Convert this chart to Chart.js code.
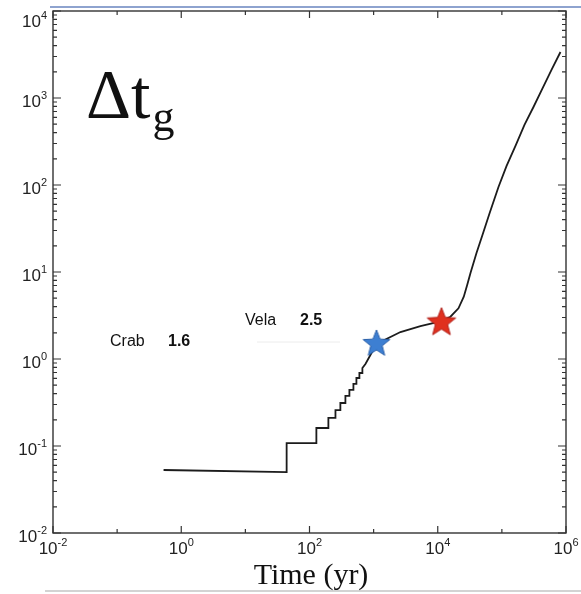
<!DOCTYPE html>
<html>
<head>
<meta charset="utf-8">
<script src="https://cdn.jsdelivr.net/npm/chart.js@4.4.1/dist/chart.umd.min.js"></script>
<style>
html, body { margin: 0; padding: 0; background: #fff; }
#wrap { width: 581px; height: 594px; }
</style>
</head>
<body>
<div id="wrap"><canvas id="c" width="581" height="594"></canvas></div>
<script>
// glitch time delay curve (time in yr)
var timeYr = [0.53, 44, 44, 128, 128, 197, 197, 254, 254, 303, 303, 363, 363, 419, 419, 484, 484, 539, 539, 600, 600, 668, 668, 745, 891, 1107, 2620, 5370, 11430, 15780, 21040, 25470, 28770, 32400, 40200, 49800, 64100, 88500, 118000, 163000, 225000, 311000, 430000, 594000, 820000]
var deltaTg = [0.053, 0.050, 0.108, 0.108, 0.161, 0.161, 0.210, 0.210, 0.259, 0.259, 0.312, 0.312, 0.376, 0.376, 0.441, 0.441, 0.517, 0.517, 0.605, 0.605, 0.690, 0.690, 0.789, 0.877, 1.11, 1.49, 2.04, 2.39, 2.73, 3.06, 3.83, 5.20, 7.10, 9.75, 16.5, 26.6, 47.0, 95, 165, 281, 490, 788, 1290, 2100, 3380]

// pulsar markers
var crabAge = [1107]
var crabDt = [1.49]
var velaAge = [11430]
var velaDt = [2.62]

var xTickExp = [-2, -1, 0, 1, 2, 3, 4, 5, 6]
var yTickExp = [-2, -1, 0, 1, 2, 3, 4]

var notes = [
    { name: 'Crab', value: '1.6', x: 110, vx: 168, y: 342 },
    { name: 'Vela', value: '2.5', x: 245, vx: 300, y: 321 }
]

function makeStar(r, fill, edge) {
    var c = document.createElement('canvas')
    var s = Math.ceil(r * 2 + 4)
    c.width = s
    c.height = s
    var g = c.getContext('2d')
    g.translate(s / 2, s / 2)
    g.beginPath()
    for (var i = 0; i < 10; i++) {
        var rad = i % 2 == 0 ? r : r * 0.43
        var a = -Math.PI / 2 + i * Math.PI / 5
        g.lineTo(rad * Math.cos(a), rad * Math.sin(a))
    }
    g.closePath()
    g.fillStyle = fill
    g.fill()
    g.strokeStyle = edge
    g.lineWidth = 1
    g.stroke()
    return c
}

function toPoints(xs, ys) {
    return xs.map(function(x, i) {
        return { x: x, y: ys[i] }
    })
}

function drawPow(ctx, exp, x, y, align) {
    // "10" with a raised exponent, like the matlab labels
    var base = '10'
    var sup = String(exp)
    ctx.font = '17px "Liberation Sans", Arial, sans-serif'
    var wb = ctx.measureText(base).width
    ctx.font = '11px "Liberation Sans", Arial, sans-serif'
    var ws = ctx.measureText(sup).width
    var left = align == 'right' ? x - wb - ws : x - (wb + ws) / 2
    ctx.textAlign = 'left'
    ctx.textBaseline = 'alphabetic'
    ctx.font = '17px "Liberation Sans", Arial, sans-serif'
    ctx.fillText(base, left, y)
    ctx.font = '11px "Liberation Sans", Arial, sans-serif'
    ctx.fillText(sup, left + wb, y - 8)
}

var framePlugin = {
    id: 'frame',
    beforeDatasetsDraw: function(chart) {
        var ctx = chart.ctx
        var a = chart.chartArea
        var xs = chart.scales.x
        var ys = chart.scales.y
        ctx.save()
        ctx.strokeStyle = '#333'
        ctx.lineWidth = 1.4
        ctx.strokeRect(a.left, a.top, a.right - a.left, a.bottom - a.top)

        ctx.lineWidth = 1.2
        ctx.beginPath()
        // y ticks, left and right, pointing in
        yTickExp.forEach(function(k) {
            var py = ys.getPixelForValue(Math.pow(10, k))
            ctx.moveTo(a.left, py); ctx.lineTo(a.left + 8, py)
            ctx.moveTo(a.right, py); ctx.lineTo(a.right - 8, py)
            if (k < 4) {
                for (var m = 2; m < 10; m++) {
                    var p = ys.getPixelForValue(m * Math.pow(10, k))
                    ctx.moveTo(a.left, p); ctx.lineTo(a.left + 4, p)
                    ctx.moveTo(a.right, p); ctx.lineTo(a.right - 4, p)
                }
            }
        })
        // x ticks, bottom and top
        xTickExp.forEach(function(k) {
            var px = xs.getPixelForValue(Math.pow(10, k))
            var len = k % 2 == 0 ? 7 : 4
            ctx.moveTo(px, a.bottom); ctx.lineTo(px, a.bottom - len)
            ctx.moveTo(px, a.top); ctx.lineTo(px, a.top + len)
        })
        ctx.stroke()
        ctx.restore()
    },
    afterDraw: function(chart) {
        var ctx = chart.ctx
        var xs = chart.scales.x
        var ys = chart.scales.y
        ctx.save()

        // slide rules above and below
        ctx.strokeStyle = '#8ea3cf'
        ctx.lineWidth = 2
        ctx.beginPath(); ctx.moveTo(50, 7); ctx.lineTo(581, 7); ctx.stroke()
        ctx.strokeStyle = '#c4c4c4'
        ctx.lineWidth = 1.5
        ctx.beginPath(); ctx.moveTo(45, 591); ctx.lineTo(581, 591); ctx.stroke()
        ctx.strokeStyle = '#ececec'
        ctx.lineWidth = 1
        ctx.beginPath(); ctx.moveTo(257, 342); ctx.lineTo(340, 342); ctx.stroke()

        ctx.fillStyle = '#222'
        yTickExp.forEach(function(k) {
            var py = ys.getPixelForValue(Math.pow(10, k))
            drawPow(ctx, k, 47, Math.max(py + 9, 27), 'right')
        })
        xTickExp.forEach(function(k) {
            if (k % 2 != 0) return
            var px = xs.getPixelForValue(Math.pow(10, k))
            drawPow(ctx, k, px, 554, 'center')
        })

        ctx.fillStyle = '#111'
        ctx.font = '30px "Liberation Serif", "Times New Roman", serif'
        ctx.textAlign = 'center'
        ctx.fillText('Time (yr)', 311, 584)

        ctx.textAlign = 'left'
        ctx.font = '70px "Liberation Serif", "Times New Roman", serif'
        ctx.fillText('\u0394t', 86, 118)
        var w = ctx.measureText('\u0394t').width
        ctx.font = '44px "Liberation Serif", "Times New Roman", serif'
        ctx.fillText('g', 88 + w, 131)

        notes.forEach(function(n) {
            ctx.font = '16px "Liberation Sans", Arial, sans-serif'
            ctx.textBaseline = 'middle'
            ctx.fillText(n.name, n.x, n.y)
            ctx.font = 'bold 16px "Liberation Sans", Arial, sans-serif'
            ctx.fillText(n.value, n.vx, n.y)
        })
        ctx.restore()
    }
}

new Chart(document.getElementById('c'), {
    type: 'line',
    data: {
        datasets: [{
            data: toPoints(crabAge, crabDt),
            showLine: false,
            pointStyle: makeStar(14, '#3d7fd2', '#2a5fa8'),
            pointRadius: 14
        }, {
            data: toPoints(velaAge, velaDt),
            showLine: false,
            pointStyle: makeStar(15, '#e0301e', '#b0201a'),
            pointRadius: 15
        }, {
            data: toPoints(timeYr, deltaTg),
            borderColor: '#1c1c1c',
            borderWidth: 1.8,
            pointRadius: 0,
            tension: 0,
            fill: false
        }]
    },
    options: {
        responsive: false,
        animation: false,
        layout: { autoPadding: false, padding: { left: 53, right: 15, top: 11, bottom: 61 } },
        plugins: { legend: { display: false }, tooltip: { enabled: false } },
        scales: {
            x: { type: 'logarithmic', min: 0.01, max: 1e6, display: false },
            y: { type: 'logarithmic', min: 0.01, max: 1e4, display: false }
        }
    },
    plugins: [framePlugin]
})
</script>
</body>
</html>
